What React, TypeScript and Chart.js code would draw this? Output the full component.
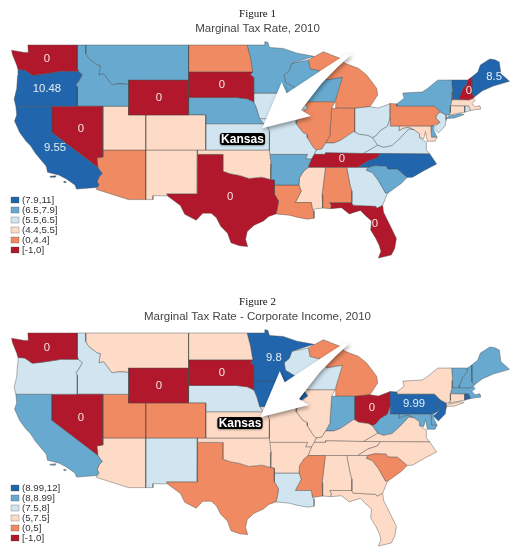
import { useEffect, useRef } from 'react';
import { Chart, registerables } from 'chart.js';

Chart.register(...registerables);

document.body.style.margin = '0';

type LonLat = number[];

// State outlines, [lon, lat]
const WA: LonLat[] = [[-124.7,48.4],[-123.2,48.15],[-122.75,48.15],[-122.8,49],[-117.03,49],[-117.03,46.42],[-116.92,45.99],[-118.98,46],[-119.3,45.93],[-121.2,45.65],[-122.3,45.55],[-122.8,45.9],[-123.2,46.15],[-123.95,46.2],[-124.1,46.7],[-124.6,47.9]];
const OR: LonLat[] = [[-123.95,46.2],[-123.2,46.15],[-122.8,45.9],[-122.3,45.55],[-121.2,45.65],[-119.3,45.93],[-118.98,46],[-116.92,45.99],[-116.46,45.6],[-116.85,44.9],[-117.2,44.45],[-117.03,44.2],[-117.03,42],[-120,42],[-124.2,42],[-124.4,42.8],[-124.1,44],[-124,45.5]];
const CA: LonLat[] = [[-124.2,42],[-120,42],[-120,39],[-114.63,35],[-114.13,34.3],[-114.45,34],[-114.72,33.4],[-114.5,33],[-114.72,32.72],[-117.12,32.53],[-117.3,33],[-118.4,33.75],[-119.2,34.15],[-120.5,34.45],[-120.65,35.15],[-121.9,36.6],[-122.5,37.5],[-123,38],[-123.75,39],[-124.35,40.3],[-124.1,41]];
const CA_I1: LonLat[] = [[-120.2,34],[-119.5,34.05],[-119.6,33.9],[-120.1,33.9]];
const CA_I2: LonLat[] = [[-118.6,33.45],[-118.3,33.35],[-118.4,33.25],[-118.6,33.3]];
const NV: LonLat[] = [[-120,42],[-114.05,42],[-114.05,36.2],[-114.75,36.1],[-114.63,35],[-120,39]];
const ID: LonLat[] = [[-117.03,49],[-116.05,49],[-116.05,48],[-115.7,47.45],[-114.7,46.7],[-114.35,46.65],[-114.5,45.6],[-113.95,45.7],[-113.45,45.05],[-113,44.45],[-112.3,44.55],[-111.5,44.55],[-111.05,44.48],[-111.05,42],[-117.03,42],[-117.03,44.2],[-117.2,44.45],[-116.85,44.9],[-116.46,45.6],[-116.92,45.99],[-117.03,46.42]];
const MT: LonLat[] = [[-116.05,49],[-104.05,49],[-104.05,45],[-111.05,45],[-111.05,44.48],[-111.5,44.55],[-112.3,44.55],[-113,44.45],[-113.45,45.05],[-113.95,45.7],[-114.5,45.6],[-114.35,46.65],[-114.7,46.7],[-115.7,47.45],[-116.05,48]];
const WY: LonLat[] = [[-111.05,45],[-104.05,45],[-104.05,41],[-111.05,41]];
const UT: LonLat[] = [[-114.05,42],[-111.05,42],[-111.05,41],[-109.05,41],[-109.05,37],[-114.05,37]];
const CO: LonLat[] = [[-109.05,41],[-102.05,41],[-102.05,37],[-109.05,37]];
const AZ: LonLat[] = [[-114.05,37],[-109.05,37],[-109.05,31.33],[-111.07,31.33],[-114.8,32.5],[-114.72,32.72],[-114.5,33],[-114.72,33.4],[-114.45,34],[-114.13,34.3],[-114.63,35],[-114.75,36.1],[-114.05,36.2]];
const NM: LonLat[] = [[-109.05,37],[-103,37],[-103.04,32],[-106.62,32],[-106.5,31.75],[-108.2,31.78],[-108.2,31.33],[-109.05,31.33]];
const ND: LonLat[] = [[-104.05,49],[-97.23,49],[-96.85,47.6],[-96.56,45.94],[-104.05,45.94]];
const SD: LonLat[] = [[-104.05,45.94],[-96.56,45.94],[-96.85,45.6],[-96.45,45.3],[-96.45,43.5],[-96.45,42.5],[-97.2,42.85],[-98.5,43],[-104.05,43]];
const NE: LonLat[] = [[-104.05,43],[-98.5,43],[-97.2,42.85],[-96.45,42.5],[-96.1,41.7],[-95.77,40.58],[-95.3,40],[-102.05,40],[-102.05,41],[-104.05,41]];
const KS: LonLat[] = [[-102.05,40],[-95.3,40],[-94.9,39.8],[-94.6,39.1],[-94.62,37],[-102.05,37]];
const OK: LonLat[] = [[-103,37],[-94.62,37],[-94.43,35.4],[-94.48,33.64],[-95.5,33.9],[-97,33.75],[-98.1,34.1],[-99.2,34.3],[-100,34.56],[-100,36.5],[-103,36.5]];
const TX: LonLat[] = [[-103,36.5],[-100,36.5],[-100,34.56],[-99.2,34.3],[-98.1,34.1],[-97,33.75],[-95.5,33.9],[-94.48,33.64],[-94.04,33.55],[-94.04,33],[-94.04,31.99],[-93.55,31.18],[-93.7,30.3],[-93.85,29.7],[-94.7,29.4],[-95.3,28.9],[-96.4,28.4],[-97.2,27.7],[-97.4,26.8],[-97.15,25.96],[-98.1,26.05],[-99.1,26.4],[-99.5,27.5],[-100.3,28.3],[-100.8,29.25],[-101.4,29.77],[-102.4,29.77],[-103.15,28.98],[-104.5,29.65],[-105,30.65],[-106.5,31.75],[-106.62,32],[-103.04,32]];
const MN: LonLat[] = [[-97.23,49],[-95.15,49],[-95.15,49.38],[-94.8,49.3],[-94.6,48.72],[-93,48.6],[-91.4,48.07],[-89.4,47.7],[-92,46.9],[-92.3,46.1],[-92.9,45.6],[-92.75,44.75],[-91.25,43.85],[-91.22,43.5],[-96.45,43.5],[-96.45,45.3],[-96.85,45.6],[-96.56,45.94],[-96.85,47.6]];
const IA: LonLat[] = [[-96.45,43.5],[-91.22,43.5],[-91.1,42.7],[-90.64,42.5],[-90.15,41.8],[-91.05,41.2],[-91.1,40.7],[-91.42,40.38],[-91.73,40.61],[-95.77,40.58],[-96.1,41.7],[-96.45,42.5]];
const MO: LonLat[] = [[-95.77,40.58],[-91.73,40.61],[-91.42,40.38],[-91.5,40],[-90.7,39],[-90.2,38.75],[-90.2,38.4],[-89.5,37.3],[-89.15,37],[-89.4,36.5],[-89.7,36],[-90.37,36],[-90.15,36.5],[-94.62,36.5],[-94.62,37],[-94.6,39.1],[-94.9,39.8],[-95.3,40]];
const AR: LonLat[] = [[-94.62,36.5],[-90.15,36.5],[-90.37,36],[-89.7,36],[-90.1,35],[-90.6,34.6],[-91.1,33.85],[-91.17,33],[-94.04,33],[-94.04,33.55],[-94.48,33.64],[-94.43,35.4]];
const LA: LonLat[] = [[-94.04,33],[-91.17,33],[-90.9,32.3],[-91.6,31],[-89.73,31],[-89.6,30.2],[-89.4,30.05],[-89.4,29.2],[-90.2,29.1],[-91.3,29.3],[-92.3,29.55],[-93.85,29.7],[-93.7,30.3],[-93.55,31.18],[-94.04,31.99]];
const MS: LonLat[] = [[-90.1,35],[-88.2,35],[-88.1,34.9],[-88.47,31.9],[-88.4,30.37],[-89.6,30.2],[-89.73,31],[-91.6,31],[-90.9,32.3],[-91.17,33],[-91.1,33.85],[-90.6,34.6]];
const AL: LonLat[] = [[-88.2,35],[-85.6,35],[-85.18,32.87],[-85,32.3],[-85,31],[-87.6,31],[-87.4,30.65],[-87.5,30.3],[-88.4,30.37],[-88.47,31.9],[-88.1,34.9]];
const GA: LonLat[] = [[-85.6,35],[-83.1,35],[-83.35,34.7],[-82.6,34.4],[-81.9,33.5],[-81.1,32.1],[-80.85,32.03],[-81.4,30.7],[-82.05,30.36],[-82.2,30.57],[-84.86,30.7],[-85,31],[-85,32.3],[-85.18,32.87]];
const FL: LonLat[] = [[-87.6,31],[-85,31],[-84.86,30.7],[-82.2,30.57],[-82.05,30.36],[-81.4,30.7],[-81.3,29.9],[-80.55,28.4],[-79.8,26.9],[-80,25.75],[-80.4,25],[-81.9,24.65],[-81.6,25.4],[-81.8,26.1],[-82.2,26.9],[-82.8,27.85],[-82.7,28.9],[-83.4,29.5],[-84,30.1],[-85.3,29.7],[-86.2,30.4],[-87.5,30.3],[-87.4,30.65]];
const SC: LonLat[] = [[-83.35,34.7],[-83.1,35],[-82.3,35.2],[-81,35.15],[-80.8,34.82],[-79.68,34.8],[-78.55,33.86],[-79.2,33.2],[-80.85,32.03],[-81.1,32.1],[-81.9,33.5],[-82.6,34.4]];
const NC: LonLat[] = [[-81.68,36.59],[-75.9,36.55],[-75.1,35.4],[-76.5,34.7],[-77.9,33.9],[-78.55,33.86],[-79.68,34.8],[-80.8,34.82],[-81,35.15],[-82.3,35.2],[-83.1,35],[-84.32,35],[-83.1,35.75],[-82,36.1]];
const TN: LonLat[] = [[-90.1,35],[-89.7,36],[-89.4,36.5],[-88.07,36.5],[-88.05,36.68],[-83.68,36.6],[-81.68,36.59],[-82,36.1],[-83.1,35.75],[-84.32,35],[-85.6,35],[-88.2,35]];
const KY: LonLat[] = [[-89.4,36.5],[-89.15,37],[-88.5,37.1],[-88.05,37.8],[-87.1,37.8],[-86.3,38.1],[-85.4,38.7],[-84.8,39.1],[-84.2,38.8],[-83.1,38.65],[-82.6,38.4],[-82,37.55],[-83.68,36.6],[-88.05,36.68],[-88.07,36.5]];
const VA: LonLat[] = [[-83.68,36.6],[-81.68,36.59],[-75.9,36.55],[-76.3,37],[-76.3,37.9],[-77.1,38.4],[-77.1,38.85],[-77.75,39.3],[-78.35,39.4],[-79.3,38.4],[-80.3,37.5],[-81.3,37.3],[-82,37.55]];
const WV: LonLat[] = [[-82.6,38.4],[-82,37.55],[-81.3,37.3],[-80.3,37.5],[-79.3,38.4],[-78.35,39.4],[-77.75,39.3],[-78.4,39.6],[-79.05,39.45],[-79.48,39.2],[-79.48,39.72],[-80.52,39.72],[-80.52,40.64],[-80.85,39.7],[-81.7,39.2],[-82.2,38.6]];
const MD: LonLat[] = [[-79.48,39.72],[-75.79,39.72],[-75.7,38.46],[-75.05,38.45],[-75.3,38],[-76.2,38],[-76.4,39.1],[-76.6,38.3],[-77.1,38.4],[-77.1,38.85],[-77.75,39.3],[-78.4,39.6],[-79.05,39.45],[-79.48,39.2]];
const DE: LonLat[] = [[-75.79,39.72],[-75.42,39.8],[-75.55,39.45],[-75.05,38.45],[-75.7,38.46]];
const PA: LonLat[] = [[-80.52,42.3],[-79.76,42.27],[-79.76,42],[-75.35,42],[-74.7,41.36],[-75.13,40.95],[-75.2,40.65],[-74.72,40.15],[-75.42,39.8],[-75.79,39.72],[-80.52,39.72]];
const NY: LonLat[] = [[-79.76,42.27],[-78.9,42.9],[-79.05,43.5],[-76.8,43.63],[-76.2,44],[-75,44.98],[-73.35,45],[-73.25,43.6],[-73.3,42.75],[-73.5,42.05],[-73.5,41.3],[-73.65,41],[-74,41],[-74.7,41.36],[-75.35,42],[-79.76,42]];
const NY_LI: LonLat[] = [[-74.03,40.6],[-73.7,40.88],[-72.3,41.15],[-71.9,41.05],[-73,40.65]];
const NJ: LonLat[] = [[-74.7,41.36],[-74,41],[-74,40.4],[-74.1,39.75],[-74.9,38.95],[-75.5,39.5],[-74.72,40.15],[-75.2,40.65],[-75.13,40.95]];
const CT: LonLat[] = [[-73.5,42.05],[-71.8,42.02],[-71.85,41.32],[-73.65,41],[-73.5,41.3]];
const RI: LonLat[] = [[-71.8,42.02],[-71.38,42.02],[-71.15,41.5],[-71.85,41.32]];
const MA: LonLat[] = [[-73.5,42.05],[-73.3,42.75],[-71.3,42.7],[-70.85,42.88],[-70.6,42.65],[-71,42.3],[-70.6,41.95],[-70.05,42.05],[-69.95,41.67],[-70.6,41.6],[-71.15,41.5],[-71.38,42.02],[-71.8,42.02]];
const VT: LonLat[] = [[-73.35,45],[-71.5,45],[-71.6,44.5],[-72.05,44],[-72.45,43],[-72.45,42.73],[-73.3,42.75],[-73.25,43.6]];
const NH: LonLat[] = [[-71.5,45],[-71.05,45.3],[-70.98,43.4],[-70.7,43.05],[-70.85,42.88],[-71.3,42.7],[-72.45,42.73],[-72.45,43],[-72.05,44],[-71.6,44.5]];
const ME: LonLat[] = [[-71.05,45.3],[-70.3,45.9],[-70,46.7],[-68.9,47.4],[-68.3,47.3],[-67.8,47.07],[-67.6,45.7],[-66.6,44.85],[-68.5,44.3],[-69.8,43.75],[-70.7,43.05],[-70.98,43.4]];
const OH: LonLat[] = [[-84.63,41.77],[-82.88,41.95],[-81.9,41.8],[-80.52,42.3],[-80.52,40.64],[-80.85,39.7],[-81.7,39.2],[-82.2,38.6],[-82.6,38.4],[-83.1,38.65],[-84.2,38.8],[-84.63,39.1]];
const IN: LonLat[] = [[-87.35,41.77],[-84.63,41.77],[-84.63,39.1],[-84.8,39.1],[-85.4,38.7],[-86.3,38.1],[-87.1,37.8],[-88.05,37.8],[-87.55,38.7],[-87.53,39.3]];
const IL: LonLat[] = [[-90.64,42.5],[-86.96,42.5],[-87.35,41.77],[-87.53,39.3],[-87.55,38.7],[-88.05,37.8],[-88.5,37.1],[-89.15,37],[-89.5,37.3],[-90.2,38.4],[-90.2,38.75],[-90.7,39],[-91.5,40],[-91.42,40.38],[-91.1,40.7],[-91.05,41.2],[-90.15,41.8]];
const WI: LonLat[] = [[-92,46.9],[-90.08,47.29],[-89.88,46.3],[-88.5,45.95],[-87.93,45],[-86.1,45.3],[-86.96,42.5],[-90.64,42.5],[-91.1,42.7],[-91.22,43.5],[-91.25,43.85],[-92.75,44.75],[-92.9,45.6],[-92.3,46.1]];
const MI: LonLat[] = [[-90.08,47.29],[-88.32,48.23],[-86.38,47.48],[-85.8,46.9],[-84.24,46.34],[-83.27,45.57],[-82.1,44.05],[-81.98,43.29],[-82.88,41.95],[-84.63,41.77],[-86.88,41.77],[-86.88,45],[-86.1,45.3],[-87.93,45],[-88.5,45.95],[-89.88,46.3]];

const stateShapes = [WA, OR, CA, CA_I1, CA_I2, NV, ID, MT, WY, UT, CO, AZ, NM, ND, SD, NE, KS, OK, TX, MN, IA, MO, AR, LA, MS, AL, GA, FL, SC, NC, TN, KY, VA, WV, MD, DE, PA, NY, NY_LI, NJ, CT, RI, MA, VT, NH, ME, OH, IL, IN, WI, MI];
const stateNames = ['WA', 'OR', 'CA', 'CA', 'CA', 'NV', 'ID', 'MT', 'WY', 'UT', 'CO', 'AZ', 'NM', 'ND', 'SD', 'NE', 'KS', 'OK', 'TX', 'MN', 'IA', 'MO', 'AR', 'LA', 'MS', 'AL', 'GA', 'FL', 'SC', 'NC', 'TN', 'KY', 'VA', 'WV', 'MD', 'DE', 'PA', 'NY', 'NY', 'NJ', 'CT', 'RI', 'MA', 'VT', 'NH', 'ME', 'OH', 'IL', 'IN', 'WI', 'MI'];

// Legend class of each state, 0 = [-1,0] up to 5 = top bin
const taxBins: Record<string, number> = { WA: 0, OR: 5, CA: 5, NV: 0, ID: 4, MT: 4, WY: 0, UT: 2, CO: 2, AZ: 1, NM: 2, ND: 1, SD: 0, NE: 4, KS: 3, OK: 2, TX: 0, MN: 4, IA: 3, MO: 3, AR: 4, LA: 1, MS: 2, AL: 1, GA: 3, FL: 0, SC: 4, NC: 5, TN: 0, KY: 3, VA: 3, WV: 3, MD: 2, DE: 4, PA: 1, NY: 4, NJ: 3, CT: 2, RI: 3, MA: 2, VT: 5, NH: 0, ME: 5, OH: 3, IN: 1, IL: 1, WI: 4, MI: 1 };
const corpBins: Record<string, number> = { WA: 0, OR: 3, CA: 4, NV: 0, ID: 3, MT: 2, WY: 0, UT: 1, CO: 1, AZ: 2, NM: 3, ND: 2, SD: 0, NE: 3, KS: 2, OK: 2, TX: 1, MN: 5, IA: 5, MO: 2, AR: 2, LA: 3, MS: 1, AL: 2, GA: 2, FL: 2, SC: 1, NC: 2, TN: 2, KY: 2, VA: 2, WV: 4, MD: 4, DE: 4, PA: 5, NY: 2, NJ: 5, CT: 2, RI: 5, MA: 4, VT: 4, NH: 4, ME: 4, OH: 0, IN: 4, IL: 2, WI: 3, MI: 1 };

const binColors = ['#b2182b', '#ef8a62', '#fddbc7', '#d1e5f0', '#67a9cf', '#2166ac'];
const taxLegend = ['[-1,0]', '(0,4.4]', '(4.4,5.5]', '(5.5,6.5]', '(6.5,7.9]', '(7.9,11]'];
const corpLegend = ['[-1,0]', '(0,5]', '(5,7.5]', '(7.5,8]', '(8,8.99]', '(8.99,12]'];

// Printed values: [lon, lat, text]
const taxValues: [number, number, string][] = [[-120.57,47.4,'0'],[-120.57,43.97,'10.48'],[-119.63,37.23,'9.55'],[-116.6,39.4,'0'],[-107.5,42.94,'0'],[-100.15,44.43,'0'],[-99.2,31.63,'0'],[-86.15,35.97,'0'],[-82.3,28.54,'0'],[-71.33,43.74,'0'],[-68.4,45.34,'8.5']];
const corpValues: [number, number, string][] = [[-120.57,47.3,'0'],[-116.6,39.3,'0'],[-107.5,42.94,'0'],[-100.15,44.43,'0'],[-94.1,46.14,'9.8'],[-82.65,40.43,'0'],[-77.74,40.89,'9.99']];

const arrowShape: LonLat[] = [[-85,47.97],[-85.8,47.86],[-88.51,46.14],[-92.6,43.48],[-93.18,44.74],[-95.45,39.48],[-89.76,40.89],[-90.93,41.57],[-88.51,44.62],[-86.61,46.52]];

const LON_MIN = -126.05;
const LON_MAX = -65.96;
const LAT_MAX = 49.57;

interface MapPanelProps {
  figure: string;
  title: string;
  bins: Record<string, number>;
  legend: string[];
  values: [number, number, string][];
  height: number;
  latMin: number;
  arrowShift: LonLat;
  kansasAt: LonLat;
}

function MapPanel({ figure, title, bins, legend, values, height, latMin, arrowShift, kansasAt }: MapPanelProps) {
  const canvasRef = useRef<HTMLCanvasElement>(null);

  useEffect(() => {
    if (!canvasRef.current) return;

    // Value labels, pointer, Kansas tag and the class legend
    const overlay = {
      id: 'overlay',
      afterDatasetsDraw(chart: Chart) {
        const { ctx, scales } = chart;
        const px = (lon: number) => scales.x.getPixelForValue(lon);
        const py = (lat: number) => scales.y.getPixelForValue(lat);
        ctx.save();

        ctx.font = '11.3px "Liberation Sans"';
        ctx.fillStyle = 'rgba(255,255,255,0.88)';
        ctx.textAlign = 'center';
        ctx.textBaseline = 'middle';
        values.forEach(([lon, lat, text]) => ctx.fillText(text, px(lon), py(lat)));

        ctx.save();
        ctx.shadowColor = 'rgba(0,0,0,0.4)';
        ctx.shadowBlur = 4;
        ctx.shadowOffsetX = 1;
        ctx.shadowOffsetY = 2;
        ctx.fillStyle = '#ffffff';
        ctx.beginPath();
        arrowShape.forEach(([lon, lat], i) => {
          const x = px(lon + arrowShift[0]);
          const y = py(lat + arrowShift[1]);
          if (i === 0) ctx.moveTo(x, y);
          else ctx.lineTo(x, y);
        });
        ctx.closePath();
        ctx.fill();
        ctx.restore();

        const kx = px(kansasAt[0]);
        const ky = py(kansasAt[1]);
        ctx.font = 'bold 12px "Liberation Sans"';
        const kw = ctx.measureText('Kansas').width + 2.5;
        ctx.save();
        ctx.shadowColor = 'rgba(0,0,0,0.35)';
        ctx.shadowBlur = 2;
        ctx.shadowOffsetY = 1;
        ctx.fillStyle = '#000000';
        ctx.beginPath();
        ctx.roundRect(kx - kw / 2, ky - 6, kw, 12, 3);
        ctx.fill();
        ctx.restore();
        ctx.fillStyle = '#ffffff';
        ctx.fillText('Kansas', kx, ky + 0.5);

        ctx.font = '9.7px "Liberation Sans"';
        ctx.textAlign = 'left';
        legend.forEach((label, i) => {
          const y = 250 - i * 10;
          ctx.fillStyle = binColors[i];
          ctx.fillRect(11, y - 3, 8, 6);
          ctx.strokeStyle = 'rgba(70,70,70,0.6)';
          ctx.lineWidth = 0.5;
          ctx.strokeRect(11, y - 3, 8, 6);
          ctx.fillStyle = '#333333';
          ctx.fillText(label, 22, y + 0.5);
        });
        ctx.restore();
      },
    };

    const chart = new Chart(canvasRef.current, {
      type: 'scatter',
      data: {
        datasets: stateShapes.map((shape, i) => ({
          label: stateNames[i],
          data: [...shape, shape[0]].map(([x, y]) => ({ x, y })),
          showLine: true,
          fill: 'shape',
          tension: 0,
          pointRadius: 0,
          borderWidth: 0.55,
          borderColor: 'rgba(70,70,70,0.75)',
          backgroundColor: binColors[bins[stateNames[i]]],
        })),
      },
      options: {
        responsive: false,
        animation: false,
        devicePixelRatio: 1,
        events: [],
        layout: { padding: 0 },
        scales: {
          x: { type: 'linear', min: LON_MIN, max: LON_MAX, display: false },
          y: { type: 'linear', min: latMin, max: LAT_MAX, display: false },
        },
        plugins: {
          legend: { display: false },
          tooltip: { enabled: false },
          title: {
            display: true,
            text: figure,
            color: '#111111',
            font: { family: '"Liberation Serif"', size: 11, weight: 'normal', lineHeight: 1.2 },
            padding: { top: 7.5, bottom: 1.3 },
          },
          subtitle: {
            display: true,
            text: title,
            color: '#444444',
            font: { family: '"Liberation Sans"', size: 11.5, weight: 'normal', lineHeight: 1.2 },
            padding: { top: 0, bottom: 4.2 },
          },
        },
      } as any,
      plugins: [overlay],
    } as any);

    return () => {
      chart.destroy();
    };
  }, [figure, title, bins, legend, values, height, latMin, arrowShift, kansasAt]);

  return <canvas ref={canvasRef} width={515} height={height} style={{ display: 'block' }} />;
}

export default function App() {
  return (
    <div style={{ width: 515, height: 555, overflow: 'hidden', background: '#ffffff' }}>
      <MapPanel
        figure="Figure 1"
        title="Marginal Tax Rate, 2010"
        bins={taxBins}
        legend={taxLegend}
        values={taxValues}
        height={288}
        latMin={21.23}
        arrowShift={[0, 0]}
        kansasAt={[-97.76, 38.26]}
      />
      <MapPanel
        figure="Figure 2"
        title="Marginal Tax Rate - Corporate Income, 2010"
        bins={corpBins}
        legend={corpLegend}
        values={corpValues}
        height={267}
        latMin={23.63}
        arrowShift={[-0.23, -0.11]}
        kansasAt={[-98.05, 38.71]}
      />
    </div>
  );
}
